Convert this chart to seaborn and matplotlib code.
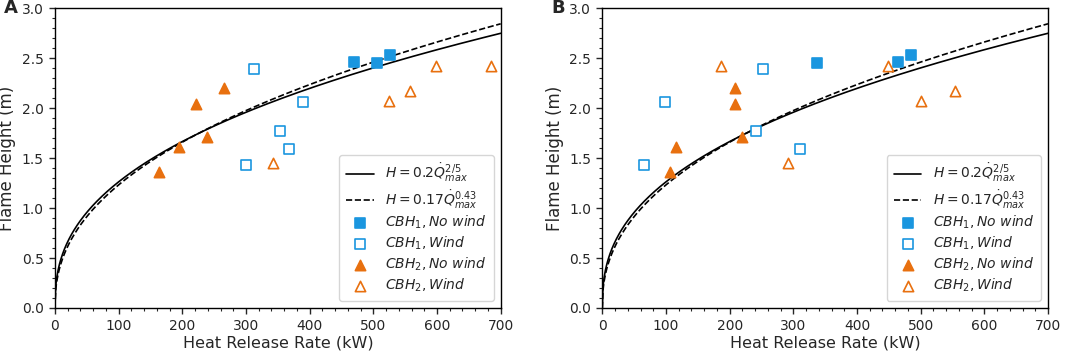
import numpy as np
import pandas as pd
import seaborn as sns
import matplotlib
matplotlib.use('Agg')
import matplotlib.pyplot as plt
from matplotlib.ticker import MultipleLocator

# panel A data (kW, m)
a_sq_fill_x = [470, 506, 526]
a_sq_fill_y = [2.46, 2.45, 2.53]
a_sq_open_x = [312, 390, 354, 367, 300]
a_sq_open_y = [2.39, 2.06, 1.77, 1.59, 1.43]
a_tri_fill_x = [164, 195, 221, 238, 265]
a_tri_fill_y = [1.36, 1.61, 2.04, 1.71, 2.20]
a_tri_open_x = [343, 524, 558, 599, 685]
a_tri_open_y = [1.45, 2.07, 2.17, 2.42, 2.42]

# panel B data
b_sq_fill_x = [337, 464, 485]
b_sq_fill_y = [2.45, 2.46, 2.53]
b_sq_open_x = [65, 98, 241, 253, 310]
b_sq_open_y = [1.43, 2.06, 1.77, 2.39, 1.59]
b_tri_fill_x = [106, 115, 208, 209, 220]
b_tri_fill_y = [1.36, 1.61, 2.20, 2.04, 1.71]
b_tri_open_x = [186, 292, 449, 501, 554]
b_tri_open_y = [2.42, 1.45, 2.42, 2.07, 2.17]

# correlations H = c * Q^n
corr_coef = [0.2, 0.17]
corr_exp = [0.4, 0.43]

blue = '#1a96df'
orange = '#e8700f'

sns.set_style('ticks')
plt.rcParams['font.family'] = ['DejaVu Sans']
plt.rcParams['mathtext.fontset'] = 'dejavusans'


def draw_panel(ax, sqf, sqo, trf, tro, letter):
    q = np.linspace(0, 700, 700)
    ax.plot(q, corr_coef[0] * q ** corr_exp[0], color='black', lw=1.2,
            label=r'$H = 0.2\dot{Q}_{max}^{2/5}$')
    ax.plot(q, corr_coef[1] * q ** corr_exp[1], color='black', lw=1.2, ls='--',
            label=r'$H = 0.17\dot{Q}_{max}^{0.43}$')
    sns.scatterplot(x=sqf[0], y=sqf[1], ax=ax, marker='s', s=50, color=blue,
                    edgecolor=blue, linewidth=1.2, label=r'$CBH_1, No\ wind$', zorder=3)
    ax.scatter(sqo[0], sqo[1], marker='s', s=50, facecolors='white',
               edgecolors=blue, linewidths=1.2, label=r'$CBH_1, Wind$', zorder=3)
    sns.scatterplot(x=trf[0], y=trf[1], ax=ax, marker='^', s=55, color=orange,
                    edgecolor=orange, linewidth=1.2, label=r'$CBH_2, No\ wind$', zorder=3)
    ax.scatter(tro[0], tro[1], marker='^', s=55, facecolors='white',
               edgecolors=orange, linewidths=1.2, label=r'$CBH_2, Wind$', zorder=3)
    ax.set_xlim(0, 700)
    ax.set_ylim(0, 3.0)
    ax.xaxis.set_major_locator(MultipleLocator(100))
    ax.xaxis.set_minor_locator(MultipleLocator(20))
    ax.yaxis.set_major_locator(MultipleLocator(0.5))
    ax.yaxis.set_minor_locator(MultipleLocator(0.1))
    ax.tick_params(which='major', labelsize=10, length=4.5, width=1.0, direction='out')
    ax.tick_params(which='minor', length=2.5, width=0.8, direction='out')
    ax.set_xlabel('Heat Release Rate (kW)', fontsize=11.5, labelpad=2)
    ax.set_ylabel('Flame Height (m)', fontsize=12)
    for s in ax.spines.values():
        s.set_color('black')
        s.set_linewidth(1.0)
    ax.legend(loc='lower right', fontsize=10, frameon=True, labelspacing=0.25,
              handlelength=2.0, borderpad=0.5, handletextpad=0.8)
    ax.text(-0.115, 1.0, letter, transform=ax.transAxes, fontsize=13,
            fontweight='bold', va='center', ha='left')


fig, axes = plt.subplots(1, 2, figsize=(10.84, 3.54), dpi=100)
draw_panel(axes[0], (a_sq_fill_x, a_sq_fill_y), (a_sq_open_x, a_sq_open_y),
           (a_tri_fill_x, a_tri_fill_y), (a_tri_open_x, a_tri_open_y), 'A')
draw_panel(axes[1], (b_sq_fill_x, b_sq_fill_y), (b_sq_open_x, b_sq_open_y),
           (b_tri_fill_x, b_tri_fill_y), (b_tri_open_x, b_tri_open_y), 'B')
fig.subplots_adjust(left=0.0507, right=0.9668, bottom=0.13, top=0.977, wspace=0.228)
fig.savefig('out.png', dpi=100)
